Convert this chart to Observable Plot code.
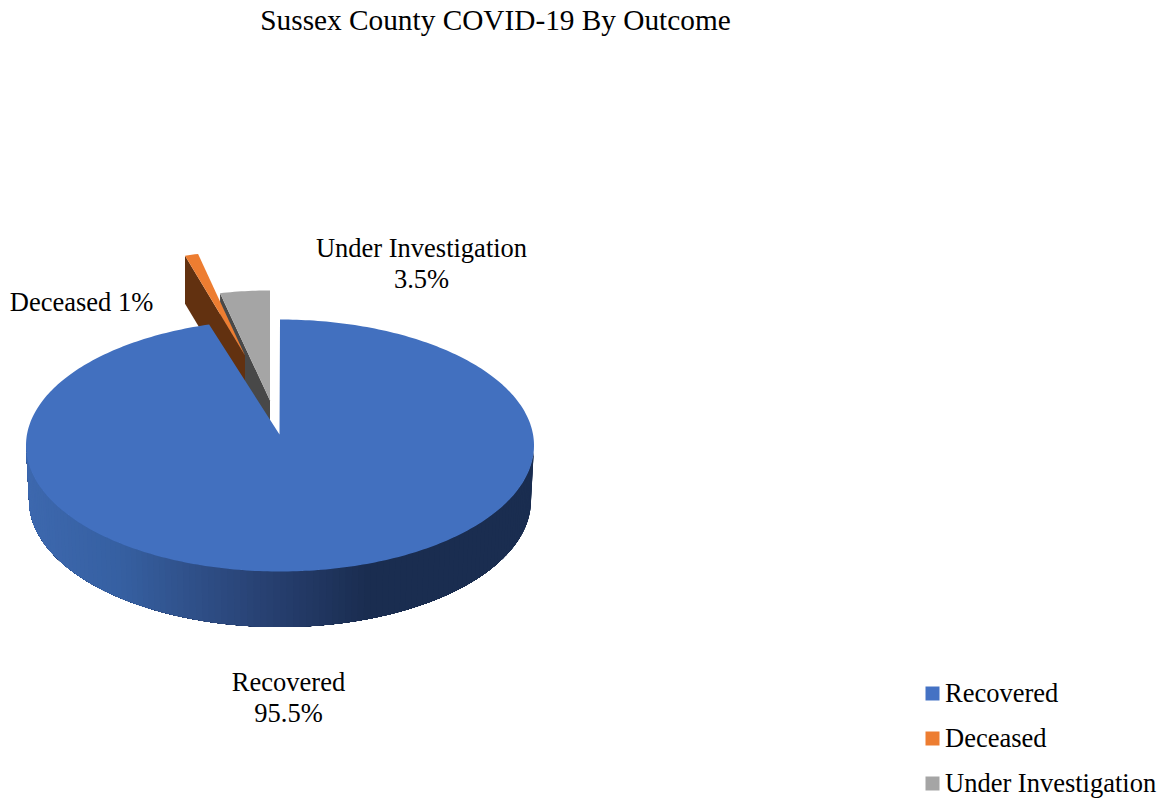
<!DOCTYPE html>
<html>
<head>
<meta charset="utf-8">
<script src="https://cdn.jsdelivr.net/npm/d3@7"></script>
<script src="https://cdn.jsdelivr.net/npm/@observablehq/plot@0.6"></script>
<style>
html,body{margin:0;padding:0;background:#fff;overflow:hidden}
svg{display:block}
</style>
</head>
<body>
<div id="chart"></div>
<script>
const chartTitle = "Sussex County COVID-19 By Outcome";
const categories = ["Recovered", "Deceased", "Under Investigation"];
const shares = [95.5, 1, 3.5];
const sliceLabels = ["Recovered\n95.5%", "Deceased 1%", "Under Investigation\n3.5%"];
const topColors = ["#4270BF", "#ED7D31", "#A5A5A5"];
const legendColors = ["#4472C4", "#ED7D31", "#A5A5A5"];
const wallColors = [null, "#623110", "#484848"];

// layout of the tilted pie, in page pixels
const W = 1175, H = 801;
const serif = "'Liberation Serif','Times New Roman',serif";
const FONT = 26.5;
const topFace = {cx: 279.5, cy: 445, rx: 254, ry: 126};
const bottomFace = {cx: 279.5, cy: 499.5, rx: 251, ry: 127};
const sliceLayout = [
  {ax: 279, ay: 434, rx: 254, ry: 126, depth: 0},
  {ax: 244.5, ay: 355, rx: 215, ry: 104, depth: 48},
  {ax: 269.5, ay: 400, rx: 229, ry: 110, depth: 55}
];
const labelAt = [[288, 696], [81, 301], [421, 262.5]];

const arcs = d3.pie().sort(null).startAngle(0).endAngle(2 * Math.PI)(shares);
const polygons = [];
function addPolygon(id, color, pts) {
  [...pts, pts[0]].forEach(([x, y]) => polygons.push({id, color, x, y}));
}
const rimPoints = (f, a0, a1) => {
  const n = Math.max(2, Math.ceil(Math.abs(a1 - a0) * 60));
  return d3.range(n + 1).map(i => {
    const a = a0 + (a1 - a0) * i / n;
    return [(f.cx ?? f.ax) + f.rx * Math.sin(a), (f.cy ?? f.ay) - f.ry * Math.cos(a)];
  });
};

// exploded slices: cut wall first, then top face (grey behind orange)
[2, 1].forEach(i => {
  const a = arcs[i], s = sliceLayout[i];
  const p = [s.ax + s.rx * Math.sin(a.startAngle), s.ay - s.ry * Math.cos(a.startAngle)];
  addPolygon(`wall${i}`, wallColors[i], [p, [s.ax, s.ay], [s.ax, s.ay + s.depth], [p[0], p[1] + s.depth]]);
  const rim = rimPoints(s, a.startAngle, a.endAngle);
  addPolygon(`top${i}`, topColors[i], [[s.ax, s.ay], ...rim]);
});

// outer wall of the large slice: overlapping shaded bands painted right to left
const wallShade = d3.scaleLinear()
  .domain([26, 120, 200, 280, 370, 534])
  .range(["#3D68AE", "#3660A2", "#2F4F87", "#263E6E", "#1A2D50", "#1A2D50"])
  .clamp(true);
const steps = 120;
const wallStart = Math.PI / 2, wallEnd = 3 * Math.PI / 2;
d3.range(steps).forEach(k => {
  const a0 = wallStart + (wallEnd - wallStart) * k / steps;
  const t = rimPoints(topFace, a0, wallEnd), b = rimPoints(bottomFace, a0, wallEnd);
  addPolygon(`side${String(k).padStart(3, "0")}`, wallShade(t[0][0]), [...t, ...b.reverse()]);
});

// top face of the large slice
{
  const a = arcs[0], s = sliceLayout[0];
  addPolygon("top0", topColors[0],
    [[s.ax, s.ay], ...rimPoints(topFace, a.startAngle, a.endAngle)]);
}

const labels = categories.map((c, i) => ({text: sliceLabels[i], x: labelAt[i][0], y: labelAt[i][1]}));
const titleRow = [{text: chartTitle, x: 495, y: 20.5}];
const legendRows = categories.map((c, i) => ({name: c, color: legendColors[i], x: 932, y: 693 + 45 * i}));

const plot = Plot.plot({
  width: W, height: H,
  margin: 0,
  x: {domain: [0, W], range: [0, W], axis: null},
  y: {domain: [0, H], range: [0, H], axis: null},
  color: {type: "identity"},
  style: {fontFamily: serif, background: "#fff", color: "#000"},
  marks: [
    Plot.line(polygons, {x: "x", y: "y", z: "id", fill: "color", stroke: "none", curve: "linear"}),
    Plot.text(titleRow, {x: "x", y: "y", text: "text", fontSize: 29.3, fill: "#000"}),
    Plot.text(labels, {x: "x", y: "y", text: "text", fontSize: FONT, lineHeight: 31 / FONT, fill: "#000"}),
    Plot.dot(legendRows, {x: "x", y: "y", symbol: "square", r: 7.9, fill: "color", stroke: "none"}),
    Plot.text(legendRows, {x: 944.5, y: "y", dy: 0.5, text: "name", textAnchor: "start", fontSize: FONT, fill: "#000"})
  ]
});
document.getElementById("chart").appendChild(plot);
</script>
</body>
</html>
